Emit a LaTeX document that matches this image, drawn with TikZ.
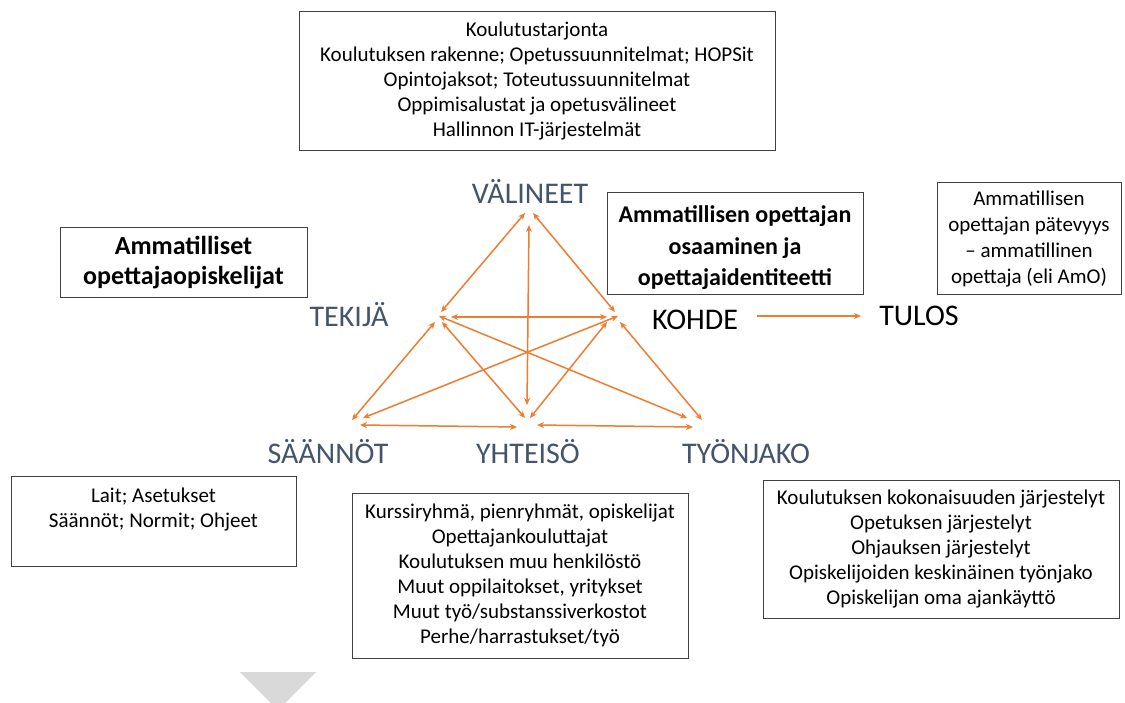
\documentclass[tikz,border=0pt]{standalone}
\usepackage{fontspec}
\setmainfont{Carlito}
\usetikzlibrary{arrows.meta}
\definecolor{arr}{HTML}{ED7D31}
\definecolor{lab}{HTML}{44546A}
\definecolor{boxline}{HTML}{404040}
\definecolor{tri}{HTML}{D9D9D9}
\tikzset{
 box/.style={draw=boxline, line width=1pt, inner sep=0pt, align=center, font=\fontsize{21}{25}\selectfont},
 plain/.style={inner sep=0pt, align=center, font=\fontsize{21}{25}\selectfont},
 big/.style={font=\fontsize{30}{36}\selectfont, text=lab, anchor=base, inner sep=0pt},
 bigblack/.style={big, text=black},
 link/.style={draw=arr, line width=1.5pt, {Stealth[length=7pt,width=6pt]}-{Stealth[length=7pt,width=6pt]}},
 onelink/.style={draw=arr, line width=1.8pt, -{Stealth[length=7pt,width=6pt]}},
}
\begin{document}
\begin{tikzpicture}[x=1pt,y=-1pt]
\useasboundingbox (0,0) rectangle (1125,703);
\fill[white] (0,0) rectangle (1125,703);

% boxes
\node[box, minimum width=476pt, minimum height=139pt] (tools) at (537,81.5)
 {Koulutustarjonta\\Koulutuksen rakenne; Opetussuunnitelmat; HOPSit\\Opintojaksot; Toteutussuunnitelmat\\Oppimisalustat ja opetusvälineet\\Hallinnon IT-järjestelmät};
\node[box, minimum width=247pt, minimum height=70pt, font=\bfseries\fontsize{26}{30}\selectfont] (subj) at (183.5,263)
 {Ammatilliset\\opettajaopiskelijat};
\node[box, minimum width=256pt, minimum height=102pt] (obj) at (735,244) {};
\node[plain, font=\bfseries\fontsize{24}{31.5}\selectfont] (objtxt) at (735,248)
 {Ammatillisen opettajan\\osaaminen ja\\opettajaidentiteetti};
\node[box, minimum width=184pt, minimum height=112pt, font=\fontsize{21}{26}\selectfont] (res) at (1029,239)
 {Ammatillisen\\opettajan pätevyys\\– ammatillinen\\opettaja (eli AmO)};
\node[box, minimum width=285pt, minimum height=90pt] (rules) at (153.5,521) {};
\node[plain] (rulestxt) at (153.5,509.5) {Lait; Asetukset\\Säännöt; Normit; Ohjeet};
\node[box, minimum width=336pt, minimum height=165pt] (comm) at (520,575.5)
 {Kurssiryhmä, pienryhmät, opiskelijat\\Opettajankouluttajat\\Koulutuksen muu henkilöstö\\Muut oppilaitokset, yritykset\\Muut työ/substanssiverkostot\\Perhe/harrastukset/työ};
\node[box, minimum width=356pt, minimum height=138pt] (div) at (941,549)
 {Koulutuksen kokonaisuuden järjestelyt\\Opetuksen järjestelyt\\Ohjauksen järjestelyt\\Opiskelijoiden keskinäinen työnjako\\Opiskelijan oma ajankäyttö};

% labels
\node[big] (V) at (530,204) {VÄLINEET};
\node[big] (T) at (349,327) {TEKIJÄ};
\node[bigblack] (K) at (695,330) {KOHDE};
\node[bigblack] (R) at (919,326) {TULOS};
\node[big] (S) at (328,463) {SÄÄNNÖT};
\node[big] (Y) at (528,463) {YHTEISÖ};
\node[big] (J) at (746,463) {TYÖNJAKO};

% arrow end points
\coordinate (vt1) at (525,213); \coordinate (vt2) at (441,312);
\coordinate (vk1) at (533,213); \coordinate (vk2) at (615,312);
\coordinate (vy1) at (529,225); \coordinate (vy2) at (527,405);
\coordinate (tk1) at (451,317); \coordinate (tk2) at (607,317);
\coordinate (ts1) at (435,322); \coordinate (ts2) at (352,420);
\coordinate (ty1) at (442,322); \coordinate (ty2) at (525,418);
\coordinate (tj1) at (439,316); \coordinate (tj2) at (687,418);
\coordinate (ks1) at (618,316); \coordinate (ks2) at (363,418);
\coordinate (ky1) at (607,322); \coordinate (ky2) at (530,418);
\coordinate (kj1) at (620,322); \coordinate (kj2) at (702,420);
\coordinate (sy1) at (360,425); \coordinate (sy2) at (517,427);
\coordinate (yj1) at (537,425); \coordinate (yj2) at (693,427);
\coordinate (kr1) at (757,316); \coordinate (kr2) at (861,316);

\draw[link] (vt1) -- (vt2);
\draw[link] (vk1) -- (vk2);
\draw[link] (vy1) -- (vy2);
\draw[link] (tk1) -- (tk2);
\draw[link] (ts1) -- (ts2);
\draw[link] (ty1) -- (ty2);
\draw[link] (tj1) -- (tj2);
\draw[link] (ks1) -- (ks2);
\draw[link] (ky1) -- (ky2);
\draw[link] (kj1) -- (kj2);
\draw[link] (sy1) -- (sy2);
\draw[link] (yj1) -- (yj2);
\draw[onelink] (kr1) -- (kr2);

% grey triangle at bottom
\fill[tri] (240,672) -- (316,672) -- (285,703) -- (271,703) -- cycle;
\end{tikzpicture}
\end{document}
